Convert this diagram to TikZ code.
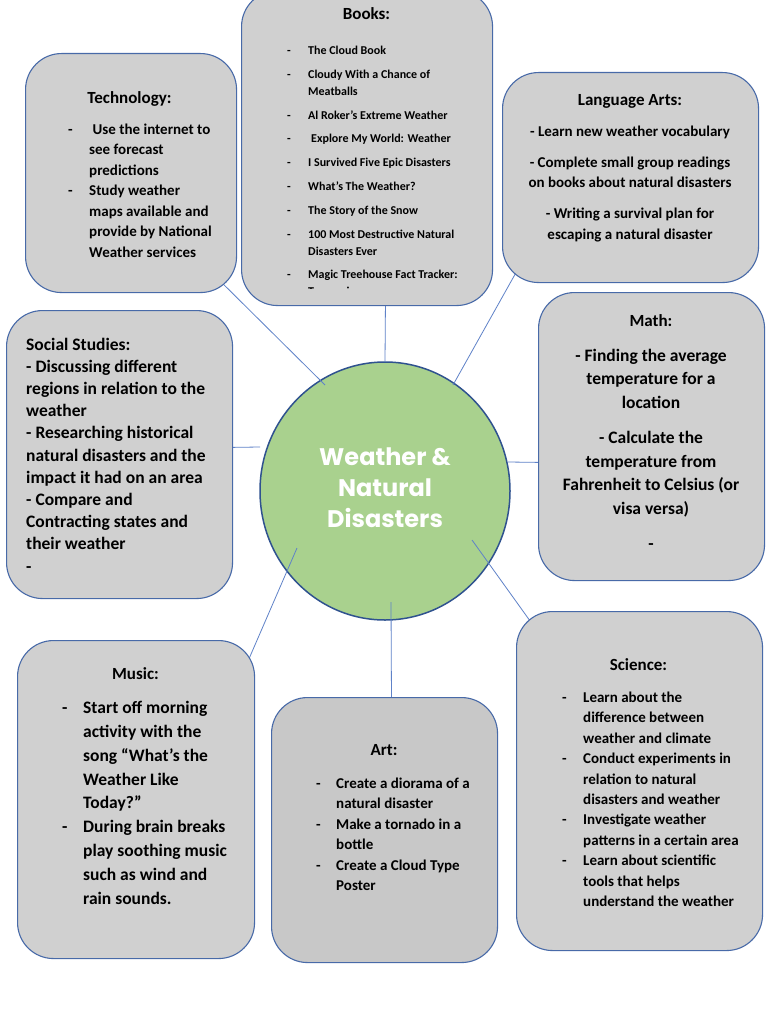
\documentclass[tikz,border=0pt]{standalone}
\usepackage{fontspec}
\setmainfont{Carlito}
\newfontfamily\hubfont{Poppins}
\usetikzlibrary{shapes.geometric,calc}
\definecolor{boxgray}{RGB}{208,208,208}
\definecolor{artgray}{RGB}{200,200,200}
\definecolor{boxline}{RGB}{72,106,168}
\definecolor{hubline}{RGB}{47,82,143}
\definecolor{hubfill}{RGB}{169,209,142}
\definecolor{connline}{RGB}{95,130,200}
\pgfdeclarelayer{paper}\pgfdeclarelayer{bg}\pgfdeclarelayer{lines}\pgfsetlayers{paper,bg,lines,main}
\newcommand\fs[2]{\fontsize{#1}{#2}\selectfont}
\tikzset{
  panel/.style={draw=boxline, fill=boxgray, line width=1.1pt, rounded corners=36pt, inner sep=0pt, anchor=north west},
  conn/.style={draw=connline, line width=0.8pt},
  txt/.style={inner sep=0pt, font=\bfseries},
}
\begin{document}
\begin{tikzpicture}[x=1pt,y=-1pt]
\begin{pgfonlayer}{paper}
\fill[white] (0,0) rectangle (768,1024);
\end{pgfonlayer}
\useasboundingbox (0,0) rectangle (768,1024);

% hub
\begin{pgfonlayer}{bg}
\node[ellipse, draw=hubline, fill=hubfill, line width=1.5pt, minimum width=250pt, minimum height=258pt, inner sep=0pt] (hub) at (385,491) {};
\end{pgfonlayer}
\node[inner sep=0pt, anchor=base, text=white] (hubT) at (385,465) {\hubfont\bfseries\fs{24}{31}\begin{tabular}[t]{@{}c@{}}Weather \&\\Natural\\Disasters\end{tabular}};

% panels
\node[panel, minimum width=251pt, minimum height=315pt] (books) at (241,-10) {};
\node[panel, minimum width=211pt, minimum height=239pt] (tech) at (25,53) {};
\node[panel, minimum width=256pt, minimum height=210pt] (lang) at (502,72) {};
\node[panel, minimum width=226pt, minimum height=288pt] (soc) at (6,310) {};
\node[panel, minimum width=226pt, minimum height=288pt] (math) at (538,292) {};
\node[panel, minimum width=237pt, minimum height=318pt] (music) at (17,640) {};
\node[panel, fill=artgray, minimum width=226pt, minimum height=265pt] (art) at (271,697) {};
\node[panel, minimum width=246pt, minimum height=339pt] (sci) at (516,611) {};

% inner ends of connectors
\coordinate (pTech) at (325,385);
\coordinate (pBooks) at (385,362);
\coordinate (pLang) at (453,385);
\coordinate (pSoc) at (260,447);
\coordinate (pMath) at (508,462);
\coordinate (pSci) at (472,540);
\coordinate (pMusic) at (297,548);
\coordinate (pArt) at (391,602);

\begin{pgfonlayer}{lines}
\draw[conn] (pTech) -- ([shift={(74.5,93.5)}]tech.center);
\draw[conn] (pBooks) -- ([shift={(18.5,142.5)}]books.center);
\draw[conn] (pLang) -- ([shift={(-105,78)}]lang.center);
\draw[conn] (pSoc) -- ([shift={(101,-7)}]soc.center);
\draw[conn] (pMath) -- ([shift={(-101,26)}]math.center);
\draw[conn] (pSci) -- ([shift={(-94,-138.5)}]sci.center);
\draw[conn] (pMusic) -- ([shift={(103.5,-119)}]music.center);
\draw[conn] (pArt) -- ([shift={(7,-117.5)}]art.center);
\end{pgfonlayer}

% Books
\node[txt, anchor=base] (booksT) at (366.5,20) {\fs{17}{20}Books:};
\begin{scope}
\clip (241,-10) rectangle (492,288.6);
\node[txt, anchor=base west] (booksL) at (287,54.6) {\fs{12}{17}\begin{tabular}[t]{@{}p{21pt}@{}l@{}}
-&The Cloud Book\\[6.8pt]
-&Cloudy With a Chance of\\ &Meatballs\\[6.8pt]
-&Al Roker’s Extreme Weather\\[6.8pt]
-&\hspace{3pt}Explore My World: Weather\\[6.8pt]
-&I Survived Five Epic Disasters\\[6.8pt]
-&What’s The Weather?\\[6.8pt]
-&The Story of the Snow\\[6.8pt]
-&100 Most Destructive Natural\\ &Disasters Ever\\[6.8pt]
-&Magic Treehouse Fact Tracker:\\ &Tsunamis
\end{tabular}};
\end{scope}

% Technology
\node[txt, anchor=base] (techT) at (129.5,103.5) {\fs{17}{20}Technology:};
\node[txt, anchor=base west] (techL) at (68,134.5) {\fs{15}{20.5}\begin{tabular}[t]{@{}p{21pt}@{}l@{}}
-&\hspace{3.5pt}Use the internet to\\ &see forecast\\ &predictions\\
-&Study weather\\ &maps available and\\ &provide by National\\ &Weather services
\end{tabular}};

% Language Arts
\node[txt, anchor=base] (langT) at (630,105.5) {\fs{17}{20}Language Arts:};
\node[txt, anchor=base] (langL) at (630,136.5) {\fs{15}{20.5}\begin{tabular}[t]{@{}c@{}}
- Learn new weather vocabulary\\[10.5pt]
- Complete small group readings\\on books about natural disasters\\[10.5pt]
- Writing a survival plan for\\escaping a natural disaster
\end{tabular}};

% Social Studies
\node[txt, anchor=base west] (socL) at (26,350) {\fs{17.5}{22.2}\begin{tabular}[t]{@{}l@{}}
Social Studies:\\- Discussing different\\regions in relation to the\\weather\\
- Researching historical\\natural disasters and the\\impact it had on an area\\
- Compare and\\Contracting states and\\their weather\\-
\end{tabular}};

% Math
\node[txt, anchor=base] (mathL) at (651,326.2) {\fs{17.5}{23.5}\begin{tabular}[t]{@{}c@{}}
\fs{17}{23.5}Math:\\[11.7pt]
- Finding the average\\temperature for a\\location\\[11.7pt]
- Calculate the\\temperature from\\Fahrenheit to Celsius (or\\visa versa)\\[11.5pt]
-
\end{tabular}};

% Music
\node[txt, anchor=base] (musicT) at (135.5,679) {\fs{17}{20}Music:};
\node[txt, anchor=base west] (musicL) at (62,713.7) {\fs{17.5}{23.8}\begin{tabular}[t]{@{}p{21pt}@{}l@{}}
-&Start off morning\\ &activity with the\\ &song “What’s the\\ &Weather Like\\ &Today?”\\
-&During brain breaks\\ &play soothing music\\ &such as wind and\\ &rain sounds.
\end{tabular}};

% Art
\node[txt, anchor=base] (artT) at (384,755) {\fs{17}{20}Art:};
\node[txt, anchor=base west] (artL) at (316,788.5) {\fs{15}{20.4}\begin{tabular}[t]{@{}p{20pt}@{}l@{}}
-&Create a diorama of a\\ &natural disaster\\
-&Make a tornado in a\\ &bottle\\
-&Create a Cloud Type\\ &Poster
\end{tabular}};

% Science
\node[txt, anchor=base] (sciT) at (638.5,670) {\fs{17}{20}Science:};
\node[txt, anchor=base west] (sciL) at (562,702.5) {\fs{15}{20.4}\begin{tabular}[t]{@{}p{21pt}@{}l@{}}
-&Learn about the\\ &difference between\\ &weather and climate\\
-&Conduct experiments in\\ &relation to natural\\ &disasters and weather\\
-&Investigate weather\\ &patterns in a certain area\\
-&Learn about scientific\\ &tools that helps\\ &understand the weather
\end{tabular}};
\end{tikzpicture}
\end{document}
